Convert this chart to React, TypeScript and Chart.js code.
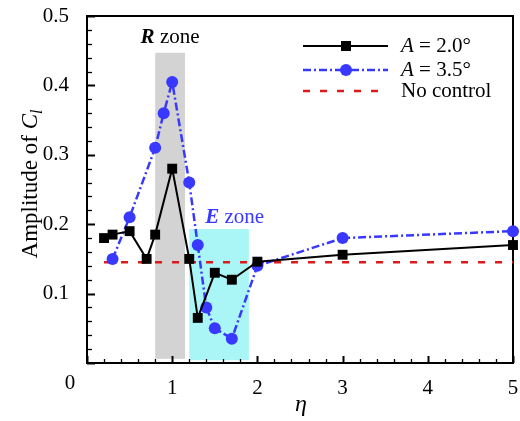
import React, { useEffect, useRef } from 'react';
import { Chart, registerables } from 'chart.js';

Chart.register(...registerables);

const SERIF = '"Liberation Serif", "Times New Roman", serif';

// Data
const etaA20 = [0.2, 0.3, 0.5, 0.7, 0.8, 1.0, 1.2, 1.3, 1.5, 1.7, 2.0, 3.0, 5.0];
const ampA20 = [0.18, 0.185, 0.19, 0.15, 0.185, 0.28, 0.15, 0.065, 0.13, 0.12, 0.146, 0.156, 0.17];
const etaA35 = [0.3, 0.5, 0.8, 0.9, 1.0, 1.2, 1.3, 1.4, 1.5, 1.7, 2.0, 3.0, 5.0];
const ampA35 = [0.15, 0.21, 0.31, 0.36, 0.405, 0.26, 0.17, 0.08, 0.05, 0.035, 0.14, 0.18, 0.19];
const etaNoControl = [0.2, 5.0];
const ampNoControl = [0.145, 0.145];

// Shaded zones: [etaStart, etaEnd, ampBottom, ampTop]
const zoneR = [0.8, 1.15, 0.006, 0.447];
const zoneE = [1.2, 1.9, 0.004, 0.193];

const xRange = [0, 5];
const yRange = [0, 0.5];
const xMajorStep = 1;
const xMinorStep = 0.2;
const yMajorStep = 0.1;
const yMinorStep = 0.02;

const legendLabels = ['2.0°', '3.5°', 'No control'];

const BLUE = '#3838ff';
const RED = '#dd1a1a';
const CYAN = '#aaf6f6';
const GRAY = '#d3d3d3';
const BLUE_DASH = [8, 3, 2, 3];
const RED_DASH = [7, 10];

function pts(xs: number[], ys: number[]) {
  return xs.map((x, i) => ({ x, y: ys[i] }));
}

type Seg = { t: string; font: string; dy?: number; color?: string };

function segWidth(ctx: CanvasRenderingContext2D, segs: Seg[]) {
  let w = 0;
  for (const s of segs) {
    ctx.font = s.font;
    w += ctx.measureText(s.t).width;
  }
  return w;
}

function drawSegs(ctx: CanvasRenderingContext2D, segs: Seg[], x: number, y: number, color: string) {
  let cx = x;
  for (const s of segs) {
    ctx.font = s.font;
    ctx.fillStyle = s.color || color;
    ctx.fillText(s.t, cx, y + (s.dy || 0));
    cx += ctx.measureText(s.t).width;
  }
}

export default function App() {
  const ref = useRef<HTMLCanvasElement>(null);

  useEffect(() => {
    const canvas = ref.current;
    if (!canvas) return;

    const decor = {
      id: 'decor',
      beforeDatasetsDraw(chart: any) {
        const ctx: CanvasRenderingContext2D = chart.ctx;
        const xs = chart.scales.x;
        const ys = chart.scales.y;
        const area = chart.chartArea;
        ctx.save();
        const drawZone = (z: number[], color: string) => {
          const x0 = xs.getPixelForValue(z[0]);
          const x1 = xs.getPixelForValue(z[1]);
          const y0 = ys.getPixelForValue(z[3]);
          const y1 = ys.getPixelForValue(z[2]);
          ctx.fillStyle = color;
          ctx.fillRect(x0, y0, x1 - x0, y1 - y0);
        };
        drawZone(zoneR, GRAY);
        drawZone(zoneE, CYAN);

        ctx.strokeStyle = '#000';
        ctx.lineWidth = 2;
        ctx.strokeRect(area.left, area.top, area.right - area.left, area.bottom - area.top);

        const nx = Math.round((xRange[1] - xRange[0]) / xMinorStep);
        const xr = Math.round(xMajorStep / xMinorStep);
        for (let i = 0; i <= nx; i++) {
          const v = xRange[0] + i * xMinorStep;
          const px = Math.round(xs.getPixelForValue(v)) + 0.5;
          const len = i % xr === 0 ? 7 : 4;
          ctx.lineWidth = i % xr === 0 ? 2 : 1.3;
          ctx.beginPath();
          ctx.moveTo(px, area.bottom);
          ctx.lineTo(px, area.bottom - len);
          ctx.stroke();
        }
        const ny = Math.round((yRange[1] - yRange[0]) / yMinorStep);
        const yr = Math.round(yMajorStep / yMinorStep);
        for (let i = 0; i <= ny; i++) {
          const v = yRange[0] + i * yMinorStep;
          const py = Math.round(ys.getPixelForValue(v)) + 0.5;
          const len = i % yr === 0 ? 8 : 5;
          ctx.lineWidth = i % yr === 0 ? 2 : 1.3;
          ctx.beginPath();
          ctx.moveTo(area.left, py);
          ctx.lineTo(area.left + len, py);
          ctx.stroke();
        }
        ctx.restore();
      },
      afterDraw(chart: any) {
        const ctx: CanvasRenderingContext2D = chart.ctx;
        const xs = chart.scales.x;
        const ys = chart.scales.y;
        const area = chart.chartArea;
        ctx.save();
        ctx.textBaseline = 'alphabetic';
        ctx.textAlign = 'left';

        // "0" tick label at origin (offset left as in reference)
        ctx.font = `21px ${SERIF}`;
        ctx.fillStyle = '#000';
        ctx.textAlign = 'center';
        ctx.fillText(String(xRange[0]), xs.getPixelForValue(xRange[0]) - 17, area.bottom + 26);
        ctx.textAlign = 'left';

        // zone labels
        const rSegs: Seg[] = [
          { t: 'R', font: `italic bold 21px ${SERIF}` },
          { t: ' zone', font: `21px ${SERIF}` },
        ];
        const rw = segWidth(ctx, rSegs);
        const rc = (xs.getPixelForValue(zoneR[0]) + xs.getPixelForValue(zoneR[1])) / 2;
        drawSegs(ctx, rSegs, rc - rw / 2, ys.getPixelForValue(zoneR[3]) - 10, '#000');

        const eSegs: Seg[] = [
          { t: 'E', font: `italic bold 21px ${SERIF}` },
          { t: ' zone', font: `21px ${SERIF}` },
        ];
        drawSegs(ctx, eSegs, xs.getPixelForValue(zoneE[0]) + 16, ys.getPixelForValue(zoneE[3]) - 6, BLUE);

        // legend
        const lx0 = 303, lx1 = 388, tx = 401;
        const rows = [46, 70, 91];
        ctx.strokeStyle = '#000';
        ctx.lineWidth = 2;
        ctx.setLineDash([]);
        ctx.beginPath(); ctx.moveTo(lx0, rows[0]); ctx.lineTo(lx1, rows[0]); ctx.stroke();
        ctx.fillStyle = '#000';
        ctx.fillRect(346 - 5, rows[0] - 5, 10, 10);
        ctx.strokeStyle = BLUE;
        ctx.lineWidth = 2.5;
        ctx.setLineDash(BLUE_DASH);
        ctx.beginPath(); ctx.moveTo(lx0, rows[1]); ctx.lineTo(lx1, rows[1]); ctx.stroke();
        ctx.setLineDash([]);
        ctx.fillStyle = BLUE;
        ctx.beginPath(); ctx.arc(346, rows[1], 6, 0, Math.PI * 2); ctx.fill();
        ctx.strokeStyle = RED;
        ctx.lineWidth = 2.5;
        ctx.setLineDash(RED_DASH);
        ctx.beginPath(); ctx.moveTo(lx0, rows[2]); ctx.lineTo(lx1, rows[2]); ctx.stroke();
        ctx.setLineDash([]);

        ctx.textBaseline = 'middle';
        const eqFont = `21px ${SERIF}`;
        const itFont = `italic 21px ${SERIF}`;
        drawSegs(ctx, [{ t: 'A', font: itFont }, { t: ' = ' + legendLabels[0], font: eqFont }], tx, rows[0], '#000');
        drawSegs(ctx, [{ t: 'A', font: itFont }, { t: ' = ' + legendLabels[1], font: eqFont }], tx, rows[1], '#000');
        drawSegs(ctx, [{ t: legendLabels[2], font: eqFont }], tx, rows[2], '#000');

        // x title
        ctx.textBaseline = 'alphabetic';
        ctx.font = `italic 24px ${SERIF}`;
        ctx.fillStyle = '#000';
        ctx.textAlign = 'center';
        ctx.fillText('η', 301, 411);
        ctx.textAlign = 'left';

        // y title
        const ySegs: Seg[] = [
          { t: 'Amplitude of ', font: `23px ${SERIF}` },
          { t: 'C', font: `italic 23px ${SERIF}` },
          { t: 'l', font: `italic 16px ${SERIF}`, dy: 5 },
        ];
        const yw = segWidth(ctx, ySegs);
        ctx.translate(37, 184);
        ctx.rotate(-Math.PI / 2);
        drawSegs(ctx, ySegs, -yw / 2, 0, '#000');
        ctx.restore();
      },
    };

    const chart = new Chart(canvas, {
      type: 'line',
      data: {
        datasets: [
          {
            label: 'A = 2.0°',
            data: pts(etaA20, ampA20),
            borderColor: '#000',
            backgroundColor: '#000',
            borderWidth: 2,
            pointStyle: 'rect',
            pointRadius: 7,
            pointHoverRadius: 7,
            pointBorderWidth: 0,
            clip: false,
            order: 0,
          },
          {
            label: 'A = 3.5°',
            data: pts(etaA35, ampA35),
            borderColor: BLUE,
            backgroundColor: BLUE,
            borderWidth: 2.5,
            borderDash: BLUE_DASH,
            pointStyle: 'circle',
            pointRadius: 6,
            pointHoverRadius: 6,
            pointBorderWidth: 0,
            clip: false,
            order: 1,
          },
          {
            label: 'No control',
            data: pts(etaNoControl, ampNoControl),
            borderColor: RED,
            backgroundColor: RED,
            borderWidth: 2.5,
            borderDash: RED_DASH,
            pointRadius: 0,
            clip: false,
            order: 2,
          },
        ],
      },
      options: {
        responsive: false,
        animation: false,
        devicePixelRatio: 1,
        layout: { padding: { top: 16, right: 4, left: 0, bottom: 0 } },
        plugins: { legend: { display: false }, tooltip: { enabled: false } },
        elements: { line: { tension: 0 } },
        scales: {
          x: {
            type: 'linear',
            min: xRange[0],
            max: xRange[1],
            grid: { display: false },
            border: { display: false },
            ticks: {
              stepSize: xMajorStep,
              color: '#000',
              font: { family: SERIF, size: 21 },
              padding: 5,
              maxRotation: 0,
              callback: (v: any) => (Number(v) === 0 ? '' : String(v)),
            },
            afterFit: (s: any) => {
              s.height = 58;
              s.paddingLeft = 0;
              s.paddingRight = 0;
            },
          },
          y: {
            type: 'linear',
            min: yRange[0],
            max: yRange[1],
            grid: { display: false },
            border: { display: false },
            ticks: {
              stepSize: yMajorStep,
              color: '#000',
              font: { family: SERIF, size: 21 },
              padding: 10,
              callback: (v: any) => (Math.abs(Number(v)) < 1e-9 ? '' : Number(v).toFixed(1)),
            },
            afterFit: (s: any) => {
              s.width = 87;
              s.paddingTop = 0;
              s.paddingBottom = 0;
            },
          },
        },
      },
      plugins: [decor],
    } as any);

    return () => chart.destroy();
  }, []);

  return (
    <div style={{ position: 'fixed', left: 0, top: 0, width: 520, height: 421, background: '#fff' }}>
      <canvas ref={ref} width={520} height={421} style={{ width: 520, height: 421, display: 'block' }} />
    </div>
  );
}
